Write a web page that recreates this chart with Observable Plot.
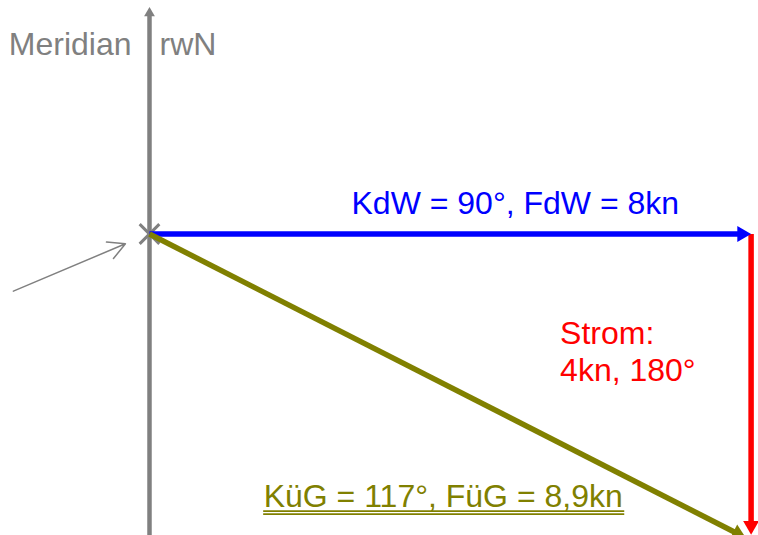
<!DOCTYPE html>
<html>
<head>
<meta charset="utf-8">
<script src="https://cdn.jsdelivr.net/npm/d3@7"></script>
<script src="https://cdn.jsdelivr.net/npm/@observablehq/plot@0.6"></script>
<style>
  html, body { margin: 0; padding: 0; background: #ffffff; }
  #chart { width: 758px; height: 535px; overflow: hidden; }
</style>
</head>
<body>
<div id="chart"></div>
<script>
// ---- Data (knots, true courses in degrees) ----
const vectorNames = ["KdW", "Strom", "KüG"];
const courses = [90, 180, 117];
const speeds = [8, 4, 8.9];
const startsAtTipOf = [null, "KdW", null];
const vectorLabels = ["KdW = 90°, FdW = 8kn", "Strom:\n4kn, 180°", "KüG = 117°, FüG = 8,9kn"];
const meridianLabels = ["Meridian", "rwN"];
const meridianTop = [3.02];
const pointerFrom = [-1.81, -0.76];
const pointerTo = [-0.32, -0.13];

// ---- Options ----
const W = 758, H = 535;
const pxPerKn = 75.2;
const originPx = [149, 233.5];
const xDomain = [-originPx[0] / pxPerKn, (W - originPx[0]) / pxPerKn];
const yDomain = [-(H - originPx[1]) / pxPerKn, originPx[1] / pxPerKn];
const palette = {KdW: "#0000ff", Strom: "#ff0000", "KüG": "#808000"};
const gray = "#808080";
const font = "'Liberation Sans', Arial, sans-serif";
const fontSize = 32;
const headR = 5.9;       // triangle head radius (px)
const axisHeadR = 4;

const rad = d => d * Math.PI / 180;
const vectors = [];
vectorNames.forEach((name, i) => {
  const from = startsAtTipOf[i] ? vectors.find(v => v.name === startsAtTipOf[i]) : null;
  const x1 = from ? from.x2 : 0, y1 = from ? from.y2 : 0;
  const x2 = x1 + speeds[i] * Math.sin(rad(courses[i]));
  const y2 = y1 + speeds[i] * Math.cos(rad(courses[i]));
  vectors.push({name, course: courses[i], speed: speeds[i], x1, y1, x2, y2, label: vectorLabels[i]});
});
// head geometry (d3.symbolTriangle: tip at 1.555 r from center)
const withHead = (v, r) => {
  const ux = Math.sin(rad(v.course)), uy = Math.cos(rad(v.course));
  const tipOff = 1.555 * r / pxPerKn, shaftOff = 2.0 * r / pxPerKn;
  return {...v, hx: v.x2 - ux * tipOff, hy: v.y2 - uy * tipOff,
          sx: v.x2 - ux * shaftOff, sy: v.y2 - uy * shaftOff};
};
const arrows = vectors.map(v => withHead(v, headR));
const meridian = withHead({name: "Meridian", course: 0, x1: 0, y1: yDomain[0], x2: 0, y2: meridianTop[0]}, axisHeadR);

const byName = n => arrows.filter(a => a.name === n);
const mid = a => ({...a, mx: (a.x1 + a.x2) / 2, my: (a.y1 + a.y2) / 2});

// KüG label placement and its double underline (width measured from the text)
const kuegDx = -184, kuegDy = 120.6;
const kueg = byName("KüG").map(mid)[0];
const ctx = document.createElement("canvas").getContext("2d");
ctx.font = `${fontSize}px 'Liberation Sans'`;
const kuegWidth = ctx.measureText(kueg.label).width;
const ulX1 = kueg.mx + kuegDx / pxPerKn;
const ulX2 = ulX1 + (kuegWidth + 2) / pxPerKn;
const underlines = [4.6, 7.6].map(off => ({y: kueg.my - (kuegDy + off) / pxPerKn}));

const textBase = {fontFamily: font, fontSize, lineAnchor: "bottom"};

const svg = Plot.plot({
  width: W, height: H,
  marginTop: 0, marginRight: 0, marginBottom: 0, marginLeft: 0,
  x: {domain: xDomain, axis: null},
  y: {domain: yDomain, axis: null},
  style: {background: "#ffffff", fontFamily: font},
  marks: [
    // meridian axis
    Plot.link([meridian], {x1: "x1", y1: "y1", x2: "sx", y2: "sy", stroke: gray, strokeWidth: 4.5}),
    Plot.dot([meridian], {x: "hx", y: "hy", symbol: "triangle", r: axisHeadR, fill: gray, stroke: "none", rotate: 0}),
    // origin cross
    Plot.dot([{x: 0, y: 0}], {x: "x", y: "y", symbol: "times", r: 9, stroke: gray, strokeWidth: 3}),
    // pointer to origin
    Plot.arrow([{x1: pointerFrom[0], y1: pointerFrom[1], x2: pointerTo[0], y2: pointerTo[1]}],
      {x1: "x1", y1: "y1", x2: "x2", y2: "y2", stroke: gray, strokeWidth: 1.5, headLength: 19, headAngle: 56}),
    // vectors: shafts
    Plot.link(arrows, {x1: "x1", y1: "y1", x2: "sx", y2: "sy", stroke: d => palette[d.name], strokeWidth: 5.5}),
    // vectors: heads
    Plot.dot(arrows, {x: "hx", y: "hy", symbol: "triangle", r: headR, fill: d => palette[d.name], stroke: "none", rotate: "course"}),
    // labels
    Plot.text(byName("KdW"), {...textBase, x: "x2", y: "y2", text: "label", fill: palette.KdW, textAnchor: "end", dx: -72, dy: -20}),
    Plot.text(byName("Strom").map(mid), {...textBase, x: "mx", y: "my", text: "label", fill: palette.Strom, textAnchor: "start", dx: -191, dy: -3.5, lineHeight: 1.16}),
    Plot.text([kueg], {...textBase, x: "mx", y: "my", text: "label", fill: palette["KüG"], textAnchor: "start", dx: kuegDx, dy: kuegDy}),
    Plot.ruleY(underlines, {y: "y", x1: ulX1, x2: ulX2, stroke: palette["KüG"], strokeWidth: 1.8}),
    Plot.text([meridian], {...textBase, x: "x2", y: "y2", text: () => meridianLabels[0], fill: gray, textAnchor: "end", dx: -18, dy: 48.6}),
    Plot.text([meridian], {...textBase, x: "x2", y: "y2", text: () => meridianLabels[1], fill: gray, textAnchor: "start", dx: 10, dy: 48.6})
  ]
});
document.getElementById("chart").appendChild(svg);
</script>
</body>
</html>
